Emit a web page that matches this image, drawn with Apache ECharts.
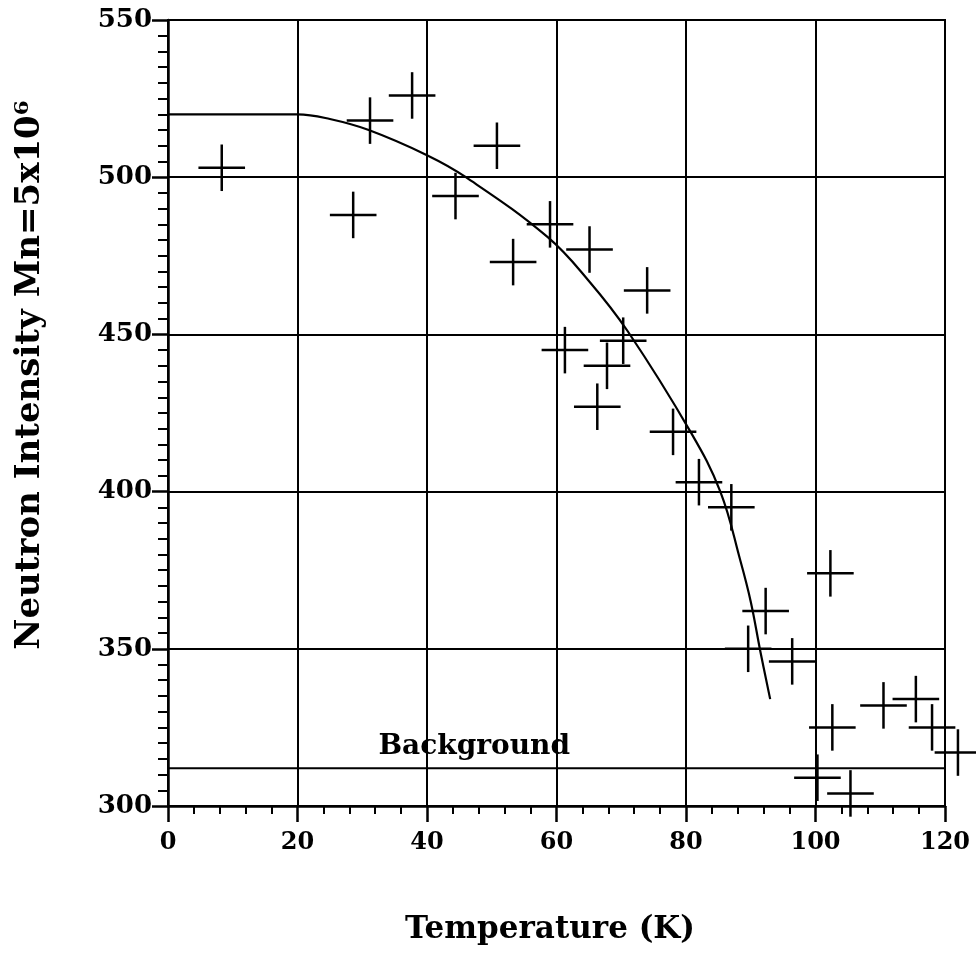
<!DOCTYPE html>
<html>
<head>
<meta charset="utf-8">
<script src="https://cdn.jsdelivr.net/npm/echarts@6/dist/echarts.min.js"></script>
<style>html,body{margin:0;padding:0;background:#fff}#c{width:976px;height:953px}</style>
</head>
<body>
<div id="c"></div>
<script>
// Measured points (Temperature K, Neutron intensity)
const pointT = [8.3, 28.6, 31.2, 37.7, 44.4, 50.8, 53.3, 59, 61.3, 65.1, 66.3, 67.8, 70.3, 74, 78, 82, 87, 89.6, 92.3, 96.4, 100.3, 102.3, 102.6, 105.4, 110.5, 115.5, 118, 122];
const pointI = [503, 488, 518, 526, 494, 510, 473, 485, 445, 477, 427, 440, 448, 464, 419, 403, 395, 350, 362, 346, 309, 374, 325, 304, 332, 334, 325, 317];
const errT = 3.6;
const errI = 7.4;
// Fitted curve
const curveT = [0, 20, 25, 31, 40, 46, 58.6, 65, 71, 80.7, 85.3, 88.4, 90, 91.5, 93];
const curveI = [520, 520, 518.5, 515, 507, 500, 481, 467, 451, 419, 400, 378, 365, 349, 334];
// Background level
const backgroundT = [0, 120];
const backgroundI = [312, 312];
const backgroundLabelT = 32.5;
const backgroundLabel = 'Background';
// Axes
const xTicks = [0, 20, 40, 60, 80, 100, 120];
const yTicks = [300, 350, 400, 450, 500, 550];

const FONT = "'DejaVu Serif', serif";
const chart = echarts.init(document.getElementById('c'), null, {renderer: 'canvas'});

const points = pointT.map((t, i) => [t, pointI[i]]);
const curve = curveT.map((t, i) => [t, curveI[i]]);
const bg = backgroundT.map((t, i) => [t, backgroundI[i]]);

const axisCommon = {
  axisLine: {show: true, onZero: false, lineStyle: {color: '#000', width: 2.5}},
  splitLine: {show: true, lineStyle: {color: '#000', width: 2}},
  axisTick: {show: true, inside: false, length: 16, lineStyle: {color: '#000', width: 2.5}},
  minorSplitLine: {show: false}
};

chart.setOption({
  animation: false,
  backgroundColor: '#fff',
  grid: {left: 168, right: 31, top: 20, bottom: 147, show: true, borderColor: '#000', borderWidth: 2},
  xAxis: Object.assign({}, axisCommon, {
    type: 'value', min: xTicks[0], max: xTicks[xTicks.length - 1], interval: 20,
    minorTick: {show: true, splitNumber: 5, length: 8, lineStyle: {color: '#000', width: 2}},
    axisLabel: {margin: 25, color: '#000', fontFamily: FONT, fontWeight: 'bold', fontSize: 24}
  }),
  yAxis: Object.assign({}, axisCommon, {
    type: 'value', min: yTicks[0], max: yTicks[yTicks.length - 1], interval: 50,
    minorTick: {show: true, splitNumber: 10, length: 10, lineStyle: {color: '#000', width: 2}},
    axisLabel: {margin: 16, color: '#000', fontFamily: FONT, fontWeight: 'bold', fontSize: 26}
  }),
  graphic: [
    {type: 'text', x: 550, y: 930, style: {text: 'Temperature (K)', fill: '#000', font: "bold 31px 'DejaVu Serif', serif", textAlign: 'center', textVerticalAlign: 'middle'}},
    {type: 'text', x: 30, y: 375, rotation: Math.PI / 2, style: {text: 'Neutron Intensity Mn=5x10⁶', fill: '#000', font: "bold 34px 'DejaVu Serif', serif", textAlign: 'center', textVerticalAlign: 'middle'}}
  ],
  series: [
    {
      type: 'line', data: bg, symbol: 'none', lineStyle: {color: '#000', width: 2}, silent: true
    },
    {
      type: 'custom', data: [[backgroundLabelT, backgroundI[0]]], silent: true, clip: false,
      renderItem: function (params, api) {
        const p = api.coord([api.value(0), api.value(1)]);
        return {type: 'text', x: p[0], y: p[1] - 8, style: {text: backgroundLabel, fill: '#000',
          font: "bold 28px 'DejaVu Serif', serif", textAlign: 'left', textVerticalAlign: 'bottom'}};
      }
    },
    {
      type: 'line', data: curve, symbol: 'none', smooth: 0.4, lineStyle: {color: '#000', width: 2.2}, silent: true
    },
    {
      type: 'custom', data: points, clip: false, silent: true,
      renderItem: function (params, api) {
        const x = api.value(0), y = api.value(1);
        const l = api.coord([x - errT, y]), r = api.coord([x + errT, y]);
        const t = api.coord([x, y + errI]), b = api.coord([x, y - errI]);
        const st = {stroke: '#000', lineWidth: 2.5};
        return {type: 'group', children: [
          {type: 'line', shape: {x1: l[0], y1: l[1], x2: r[0], y2: r[1]}, style: st},
          {type: 'line', shape: {x1: t[0], y1: t[1], x2: b[0], y2: b[1]}, style: st}
        ]};
      }
    }
  ]
});
</script>
</body>
</html>
